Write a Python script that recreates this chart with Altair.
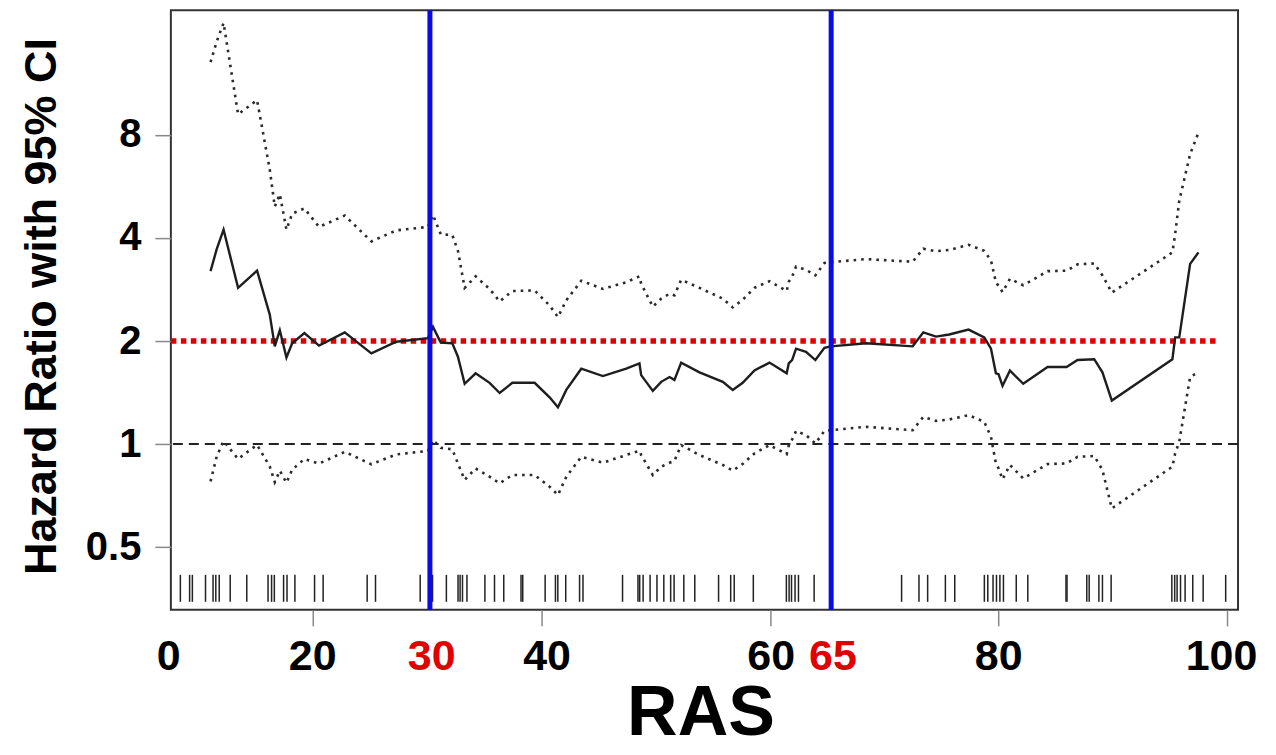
import altair as alt
import pandas as pd

# ---- data ----
ras = [11.06, 11.6, 12.2, 13.47, 15.13, 16.24, 16.68, 17.12, 17.70, 18.2, 19.27, 20.55,
       22.80, 25.13, 27.31, 30.08, 30.52, 31.2, 32.21, 32.70, 33.29, 34.25, 35.47, 36.35,
       37.46, 39.41, 40.72, 41.45, 42.18, 43.49, 45.38, 47.42, 48.58, 48.73, 49.75, 50.48,
       51.21, 51.64, 52.23, 53.83, 55.87, 56.74, 57.61, 58.64, 59.95, 61.46, 61.64, 61.93,
       62.28, 63.15, 63.97, 64.76, 65.34, 68.40, 72.48, 73.41, 74.52, 75.68, 77.37, 78.74,
       79.33, 79.76, 79.99, 80.34, 80.99, 82.15, 84.28, 85.94, 86.90, 88.36, 89.08, 89.90,
       95.20, 95.44, 95.8, 96.75, 97.48]
hr = [3.20, 3.71, 4.23, 2.86, 3.21, 2.39, 1.93, 2.15, 1.79, 1.97, 2.11, 1.94,
      2.12, 1.84, 1.99, 2.04, 2.20, 1.98, 1.97, 1.80, 1.50, 1.61, 1.51, 1.41,
      1.51, 1.51, 1.37, 1.28, 1.44, 1.66, 1.58, 1.66, 1.72, 1.59, 1.43, 1.52,
      1.57, 1.54, 1.73, 1.62, 1.52, 1.44, 1.51, 1.64, 1.73, 1.61, 1.72, 1.76,
      1.90, 1.86, 1.76, 1.91, 1.93, 1.97, 1.93, 2.12, 2.06, 2.09, 2.16, 2.05,
      1.90, 1.61, 1.60, 1.48, 1.64, 1.50, 1.68, 1.68, 1.76, 1.77, 1.62, 1.34,
      1.77, 2.05, 2.05, 3.36, 3.63]
hi = [13.06, 15.0, 16.99, 9.19, 10.11, 6.34, 4.94, 5.37, 4.23, 4.71, 4.88, 4.31,
      4.65, 3.91, 4.21, 4.31, 4.67, 4.10, 4.08, 3.67, 2.86, 3.09, 2.84, 2.61,
      2.80, 2.81, 2.54, 2.35, 2.63, 3.00, 2.84, 2.97, 3.09, 2.94, 2.52, 2.66,
      2.75, 2.72, 3.02, 2.86, 2.66, 2.51, 2.64, 2.86, 2.99, 2.80, 2.98, 3.08,
      3.30, 3.23, 3.11, 3.38, 3.40, 3.47, 3.41, 3.72, 3.66, 3.69, 3.82, 3.67,
      3.44, 2.97, 2.90, 2.78, 3.04, 2.91, 3.20, 3.21, 3.35, 3.37, 3.11, 2.77,
      3.63, 4.11, 5.14, 7.03, 8.13]
lo = [0.778, 0.92, 1.02, 0.905, 0.995, 0.86, 0.774, 0.836, 0.771, 0.842, 0.905, 0.877,
      0.949, 0.873, 0.933, 0.955, 1.027, 0.975, 0.965, 0.878, 0.786, 0.849, 0.803, 0.768,
      0.812, 0.812, 0.751, 0.710, 0.803, 0.918, 0.882, 0.929, 0.956, 0.929, 0.812, 0.859,
      0.882, 0.894, 0.993, 0.929, 0.869, 0.836, 0.875, 0.939, 0.993, 0.935, 0.99, 1.03,
      1.093, 1.062, 1.004, 1.093, 1.098, 1.123, 1.098, 1.201, 1.169, 1.18, 1.215, 1.162,
      1.05, 0.878, 0.85, 0.789, 0.869, 0.794, 0.874, 0.878, 0.918, 0.923, 0.840, 0.649,
      0.859, 0.939, 1.016, 1.571, 1.62]

rug = [8.42, 9.23, 9.47, 10.62, 11.28, 11.52, 11.82, 12.78, 14.23, 16.09, 16.40, 16.64,
       17.45, 17.75, 18.44, 20.16, 20.91, 24.76, 25.49, 29.40, 30.48, 31.69, 32.71, 32.89,
       33.10, 33.49, 35.06, 35.90, 36.71, 38.22, 38.37, 40.33, 41.23, 41.44, 42.13, 43.34,
       43.64, 47.10, 48.45, 48.60, 48.90, 49.51, 50.11, 50.71, 51.31, 51.61, 52.46, 53.42,
       55.50, 56.56, 56.87, 58.54, 61.43, 61.67, 61.88, 62.19, 62.49, 63.86, 71.51, 73.03,
       73.79, 75.34, 76.16, 78.75, 79.05, 79.51, 79.81, 80.11, 80.42, 81.54, 82.55, 85.89,
       85.98, 87.71, 87.92, 88.77, 89.08, 89.84, 95.15, 95.40, 95.61, 95.91, 96.31, 96.98,
       97.89, 99.86]

cutpoints = [30.25, 65.35]
ref_red = 2
ref_red_end = 99.3
ref_black = 1

x_tick_values = [20, 40, 60, 80, 100]
x_label_text = ["0", "20", "30", "40", "60", "65", "80", "100"]
x_label_pos = [7.4, 20, 30.4, 40.5, 60.1, 65.5, 80, 99.5]
x_label_color = ["black", "black", "#e00000", "black", "black", "#e00000", "black", "black"]
y_tick_values = [0.5, 1, 2, 4, 8]

X_DOMAIN = [7.59, 100.94]
Y_DOMAIN = [0.328, 18.5]
FONT = "Liberation Sans, Arial, sans-serif"

xs = alt.Scale(domain=X_DOMAIN, nice=False, zero=False)
ys = alt.Scale(type="log", base=2, domain=Y_DOMAIN, nice=False)

x_axis = alt.Axis(values=x_tick_values, labels=False, title="RAS",
                  grid=False, domain=False, tickSize=16, tickWidth=1.5,
                  tickColor="#888888", titleFont=FONT, titleFontSize=70,
                  titleFontWeight="bold", titleColor="black",
                  titleX=530, titleY=104, titleBaseline="middle", titleAlign="center")
y_axis = alt.Axis(values=y_tick_values, labelExpr="'' + datum.value",
                  title="Hazard Ratio with 95% CI", grid=False, domain=False,
                  tickSize=16, tickWidth=1.5, tickColor="#888888",
                  labelFont=FONT, labelFontSize=40, labelFontWeight="bold",
                  labelColor="black", labelPadding=14,
                  titleFont=FONT, titleFontSize=45, titleFontWeight="bold",
                  titleColor="black", titleX=-129, titleY=296,
                  titleBaseline="middle", titleAlign="center", titleAngle=270)

df = pd.DataFrame({"ras": ras, "hr": hr, "hi": hi, "lo": lo})
rug_df = pd.DataFrame({"ras": rug})
cut_df = pd.DataFrame({"ras": cutpoints})
red_df = pd.DataFrame({"ras": [X_DOMAIN[0]], "ras_end": [ref_red_end], "hr": [ref_red]})
blk_df = pd.DataFrame({"hr": [ref_black]})
lab_df = pd.DataFrame({"ras": x_label_pos, "t": x_label_text, "col": x_label_color})


def X(field="ras"):
    return alt.X(f"{field}:Q", scale=xs, axis=x_axis)


def Y(field="hr"):
    return alt.Y(f"{field}:Q", scale=ys, axis=y_axis)


base = alt.Chart(df)
hr_line = base.mark_line(color="#1e1e1e", strokeWidth=2.4).encode(x=X(), y=Y("hr"))
hi_line = base.mark_line(color="#2a2a2a", strokeWidth=2.6, strokeDash=[2.6, 5]).encode(x=X(), y=Y("hi"))
lo_line = base.mark_line(color="#2a2a2a", strokeWidth=2.6, strokeDash=[2.6, 5]).encode(x=X(), y=Y("lo"))

black_ref = alt.Chart(blk_df).mark_rule(color="#222222", strokeWidth=2, strokeDash=[10, 6]).encode(y=Y())
red_ref = alt.Chart(red_df).mark_rule(color="#e00000", strokeWidth=5.5, strokeDash=[5.5, 4.5]).encode(
    x=X(), x2="ras_end:Q", y=Y())

rug_marks = alt.Chart(rug_df).mark_rule(color="#222222", strokeWidth=1.5).encode(
    x=X(), y=alt.value(565), y2=alt.value(592))

blue = alt.Chart(cut_df).mark_rule(color="#0a0ae6", strokeWidth=5).encode(x=X())

labels = alt.Chart(lab_df).mark_text(font=FONT, fontSize=43, fontWeight="bold",
                                     baseline="middle", align="center").encode(
    x=X(), y=alt.value(647), text="t:N", color=alt.Color("col:N", scale=None))

chart = alt.layer(black_ref, red_ref, hi_line, lo_line, hr_line, rug_marks, blue, labels).properties(
    width=1068, height=600,
    autosize=alt.AutoSizeParams(type="none"),
    padding={"left": 163, "top": 2, "right": 30, "bottom": 140},
    background="white",
).configure_view(stroke="#333333", strokeWidth=2)

chart.save("out.html", embed_options={"renderer": "svg", "actions": False})
